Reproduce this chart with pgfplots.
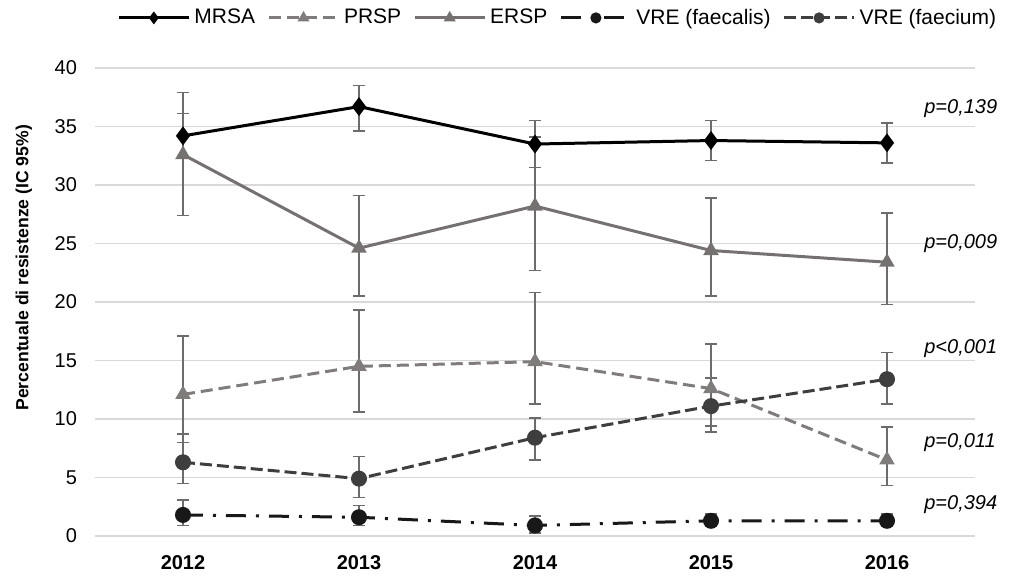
\documentclass[border=0pt]{standalone}
\usepackage{pgfplots}
\pgfplotsset{compat=1.18}
\usepackage{fontspec}
\setmainfont{Liberation Sans}
\definecolor{erspc}{RGB}{118,113,113}
\definecolor{prspc}{RGB}{128,124,124}
\definecolor{vrefm}{RGB}{62,62,62}
\definecolor{vrefs}{RGB}{24,24,24}
\definecolor{errc}{RGB}{108,108,108}
\definecolor{gridc}{RGB}{217,217,217}

\begin{document}
\begin{tikzpicture}
\begin{axis}[
    scale only axis,
    width=440pt, height=234pt,
    xmin=2011.5, xmax=2016.5,
    ymin=0, ymax=40,
    xtick={2012,2013,2014,2015,2016},
    xticklabels={2012,2013,2014,2015,2016},
    ytick={0,5,...,40},
    axis line style={draw=none},
    tick style={draw=none},
    ymajorgrids,
    grid style={gridc, line width=0.75pt},
    clip=false,
    /pgf/number format/assume math mode=true,
    tick label style={font=\fontsize{10}{12}\selectfont},
    yticklabel style={xshift=-5.5pt},
    xticklabel style={font=\fontsize{10}{12}\selectfont\bfseries, yshift=-6pt},
    ylabel={Percentuale di resistenze (IC 95\%)},
    ylabel style={font=\fontsize{8.8}{10}\selectfont\bfseries, at={(ticklabel cs:0.573,4.5pt)}},
    error bars/y dir=both,
    error bars/y explicit,
    error bars/error bar style={solid, errc, line width=0.8pt},
    error bars/error mark options={solid, errc, line width=0.8pt, mark size=2.8pt, rotate=90},
    legend columns=5,
    legend style={draw=none, fill=none, at={(0.527,1.107)}, anchor=center,
        font=\fontsize{10.5}{12}\selectfont,
        /tikz/every even column/.append style={column sep=4pt}},
    legend image code/.code={
        \draw[mark repeat=2, mark phase=2, #1, mark size=2pt]
            plot coordinates {(0pt,0pt) (17.5pt,0pt) (35pt,0pt)};
    },
]
% MRSA
\addplot[black, line width=1.5pt, mark=diamond*, mark size=3.5pt, mark options={solid, black}]
coordinates {
    (2012,34.2) += (0,1.9) -= (0,1.9)
    (2013,36.7) += (0,1.8) -= (0,2.1)
    (2014,33.5) += (0,2.0) -= (0,2.0)
    (2015,33.8) += (0,1.7) -= (0,1.7)
    (2016,33.6) += (0,1.7) -= (0,1.7)
};
% PRSP
\addplot[prspc, line width=1.5pt, dash pattern=on 6pt off 3pt, mark=triangle*, mark size=3pt, mark options={solid, prspc}]
coordinates {
    (2012,12.1) += (0,5.0) -= (0,4.1)
    (2013,14.5) += (0,4.8) -= (0,3.9)
    (2014,14.9) += (0,5.9) -= (0,3.6)
    (2015,12.6) += (0,3.8) -= (0,3.7)
    (2016,6.5)  += (0,2.8) -= (0,2.2)
};
% ERSP
\addplot[erspc, line width=1.5pt, mark=triangle*, mark size=3pt, mark options={solid, erspc}]
coordinates {
    (2012,32.6) += (0,5.3) -= (0,5.2)
    (2013,24.6) += (0,4.5) -= (0,4.1)
    (2014,28.2) += (0,5.9) -= (0,5.5)
    (2015,24.4) += (0,4.5) -= (0,3.9)
    (2016,23.4) += (0,4.2) -= (0,3.6)
};
% VRE faecalis
\addplot[vrefs, line width=1.5pt, dash pattern=on 10pt off 5pt on 1.5pt off 5pt, mark=*, mark size=3.25pt, mark options={solid, vrefs}]
coordinates {
    (2012,1.8) += (0,1.3) -= (0,0.9)
    (2013,1.6) += (0,1.0) -= (0,0.7)
    (2014,0.9) += (0,0.8) -= (0,0.65)
    (2015,1.3) += (0,0.6) -= (0,0.5)
    (2016,1.3) += (0,0.6) -= (0,0.5)
};
% VRE faecium
\addplot[vrefm, line width=1.5pt, dash pattern=on 6pt off 2.5pt, mark=*, mark size=3.25pt, mark options={solid, vrefm}]
coordinates {
    (2012,6.3)  += (0,2.4) -= (0,1.8)
    (2013,4.9)  += (0,1.9) -= (0,1.6)
    (2014,8.4)  += (0,1.7) -= (0,1.9)
    (2015,11.1) += (0,2.4) -= (0,1.7)
    (2016,13.4) += (0,2.3) -= (0,2.1)
};
\legend{MRSA, PRSP, ERSP, VRE (faecalis), VRE (faecium)}
\begin{scope}[every node/.style={anchor=west, inner sep=0pt, font=\fontsize{10}{12}\selectfont\itshape}]
\node at (axis cs:2016.21,36.5) {p=0,139};
\node at (axis cs:2016.21,25.0) {p=0,009};
\node at (axis cs:2016.21,16.0) {p<0,001};
\node at (axis cs:2016.21,8.0) {p=0,011};
\node at (axis cs:2016.21,2.7) {p=0,394};
\end{scope}
\coordinate (sw) at (rel axis cs:0,0);
\coordinate (ne) at (rel axis cs:1,1);
\end{axis}
\pgfresetboundingbox
\path ([xshift=-47.5pt,yshift=-20pt]sw) rectangle ([xshift=18pt,yshift=34pt]ne);
\end{tikzpicture}
\end{document}
